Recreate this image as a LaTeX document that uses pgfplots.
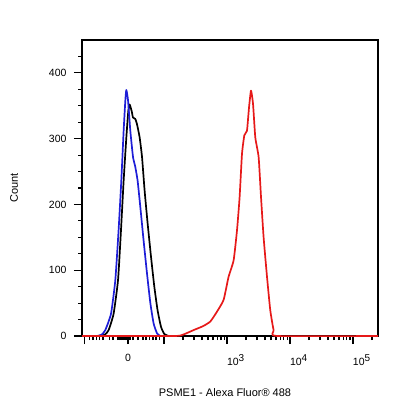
\documentclass[border=0pt]{standalone}
\usepackage{fontspec}
\setmainfont{Liberation Sans}
\usepackage{pgfplots}
\pgfplotsset{compat=1.18}
\definecolor{cblue}{RGB}{30,30,215}
\definecolor{cred}{RGB}{230,25,25}
\newcommand{\dec}[1]{\makebox[0pt][l]{10\textsuperscript{\fontsize{10}{12}\selectfont #1}}}
\begin{document}
\begin{tikzpicture}[x=1pt,y=1pt]
\begin{axis}[
  scale only axis, width=296pt, height=296pt,
  xmin=0.698, xmax=5.397, ymin=0, ymax=450,
  axis line style={line width=1.2pt},
  tick style={black, line width=1.2pt},
  tick align=outside,
  xtick pos=bottom, ytick pos=left,
  major tick length=8pt, minor tick length=4pt,
  xtick={0.741,1.429,2,3,4,5},
  xticklabels={,0,,\dec{3},\dec{4},\dec{5}},
  minor xtick={0.821,0.873,0.925,0.979,1.032,1.138,1.190,1.270,1.302,1.333,1.365,1.397,1.460,1.508,1.587,1.667,1.714,1.773,1.825,1.873,1.932,
    2.301,2.477,2.602,2.699,2.778,2.845,2.903,2.954,
    3.301,3.477,3.602,3.699,3.778,3.845,3.903,3.954,
    4.301,4.477,4.602,4.699,4.778,4.845,4.903,4.954,5.301},
  ytick={0,100,200,300,400},
  minor ytick={25,50,75,125,150,175,225,250,275,325,350,375,425},
  /pgf/number format/assume math mode=true,
  ticklabel style={font=\fontsize{10.5}{12}\selectfont},
  xticklabel style={yshift=-7pt},
  yticklabel style={xshift=-4pt},
  xlabel={PSME1 - Alexa Fluor\textregistered\ 488},
  ylabel={Count},
  label style={font=\fontsize{11}{13}\selectfont},
  xlabel style={yshift=-16pt, xshift=-5pt},
  ylabel style={yshift=24pt},
  every axis plot/.append style={line width=1.7pt, line join=round},
]
\addplot[black, smooth, tension=0.3] coordinates {
(0.962,0) (1.060,2) (1.121,9) (1.200,34) (1.270,85) (1.317,161) (1.359,236) (1.402,302)
(1.433,342) (1.454,352) (1.486,342) (1.508,332) (1.544,330) (1.571,322) (1.613,302)
(1.651,272) (1.692,221) (1.740,171) (1.794,120) (1.846,75) (1.898,39) (1.952,14)
(2.005,3) (2.073,0)};
\addplot[cblue, smooth, tension=0.3] coordinates {
(0.937,0) (1.010,2) (1.068,9) (1.159,34) (1.227,85) (1.279,161) (1.322,236) (1.359,312)
(1.386,358) (1.402,374) (1.429,358) (1.465,312) (1.508,272) (1.544,257) (1.581,236)
(1.624,196) (1.676,145) (1.730,95) (1.783,50) (1.835,19) (1.889,4) (1.941,0)};
\addplot[cred, smooth, tension=0.3] coordinates {
(0.698,0) (2.150,0) (2.300,2) (2.470,9) (2.620,15) (2.735,22) (2.841,37) (2.946,55) (3.025,90) (3.105,115)
(3.159,161) (3.200,211) (3.238,277) (3.275,305) (3.317,312) (3.349,347) (3.381,373)
(3.413,353) (3.449,302) (3.502,272) (3.540,211) (3.581,150) (3.635,90) (3.687,39)
(3.740,9) (3.794,0) (5.397,0)};
\coordinate (ll) at (rel axis cs:0,0);
\coordinate (ur) at (rel axis cs:1,1);
\end{axis}
\path[use as bounding box] ([xshift=-82pt,yshift=-80pt]ll) rectangle ([xshift=38pt,yshift=40pt]ur);
\end{tikzpicture}
\end{document}
